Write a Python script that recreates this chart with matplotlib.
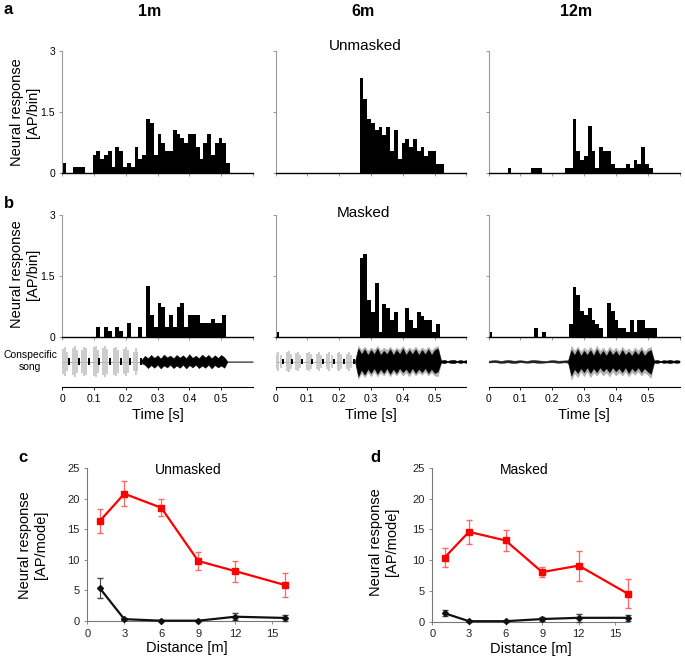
import matplotlib
matplotlib.use('Agg')
import matplotlib.pyplot as plt

plt.rcParams['font.family'] = ['Liberation Sans', 'DejaVu Sans']

# ---- PSTH data (AP/bin), bins of 12 ms starting at t = 0 ----
bin_width = 0.012
unmasked_1m = [0.25, 0, 0, 0.15, 0.15, 0.15, 0, 0, 0.45, 0.53, 0.35, 0.45, 0.53, 0.15, 0.64,
               0.53, 0.15, 0.25, 0.15, 0.64, 0.35, 0.45, 1.34, 1.24, 0.45, 0.95, 0.74, 0.55,
               0.55, 1.05, 0.95, 0.85, 0.74, 0.95, 0.95, 0.64, 0.35, 0.74, 0.95, 0.45, 0.74,
               0.85, 0.74, 0.25]
unmasked_6m = [0, 0, 0, 0, 0, 0, 0, 0, 0, 0, 0, 0, 0, 0, 0, 0, 0, 0, 0, 0, 0, 0,
               2.33, 1.82, 1.33, 1.23, 1.05, 1.13, 0.94, 1.13, 0.53, 1.05, 0.34, 0.74, 0.83,
               0.63, 0.83, 0.53, 0.63, 0.43, 0.53, 0.53, 0.23, 0.23]
unmasked_12m = [0, 0, 0, 0, 0, 0.13, 0, 0, 0, 0, 0, 0.13, 0.13, 0.13, 0, 0, 0, 0, 0, 0,
                0.13, 0.13, 1.33, 0.54, 0.33, 0.43, 1.16, 0.54, 0.13, 0.64, 0.54, 0.54, 0.23,
                0.13, 0.13, 0.13, 0.23, 0.13, 0.33, 0.23, 0.64, 0.23, 0.13]
masked_1m = [0, 0, 0, 0, 0, 0, 0, 0, 0, 0.25, 0, 0.25, 0.15, 0, 0.25, 0.15, 0, 0.35, 0, 0,
             0.25, 0, 1.25, 0.53, 0.25, 0.84, 0.74, 0.25, 0.53, 0.25, 0.74, 0.84, 0.25, 0.53,
             0.53, 0.53, 0.35, 0.35, 0.35, 0.44, 0.35, 0.35, 0.53]
masked_6m = [0.12, 0, 0, 0, 0, 0, 0, 0, 0, 0, 0, 0, 0, 0, 0, 0, 0, 0, 0, 0, 0, 0,
             1.95, 2.04, 0.92, 0.62, 1.33, 0.12, 0.82, 0.72, 0.43, 0.62, 0.12, 0.12, 0.72,
             0.43, 0.23, 0.62, 0.52, 0.43, 0.43, 0.12, 0.33]
masked_12m = [0.12, 0, 0, 0, 0, 0, 0, 0, 0, 0, 0, 0, 0.23, 0, 0.12, 0, 0, 0, 0, 0, 0,
              0.33, 1.23, 1.03, 0.64, 0.53, 0.72, 0.43, 0.33, 0.23, 0, 0.84, 0.64, 0.43,
              0.23, 0.23, 0.12, 0.43, 0.12, 0.43, 0.43, 0.23, 0.23, 0.23]

distance_labels = ['1m', '6m', '12m']
unmasked_psth = [unmasked_1m, unmasked_6m, unmasked_12m]
masked_psth = [masked_1m, masked_6m, masked_12m]

# ---- song oscillogram (relative amplitude) ----
pulse_t = [0.003, 0.009, 0.016, 0.035, 0.042, 0.048, 0.064, 0.070, 0.076, 0.099, 0.106, 0.112,
           0.130, 0.136, 0.142, 0.163, 0.169, 0.176, 0.195, 0.201, 0.207, 0.225, 0.231, 0.236]
pulse_amp_1m = [0.75, 0.9, 0.6, 0.8, 0.95, 0.7, 0.7, 0.9, 0.8, 0.85, 0.95, 0.7,
                0.8, 0.95, 0.75, 0.8, 0.9, 0.7, 0.75, 0.9, 0.7, 0.6, 0.8, 0.55]
pulse_amp_6m = [0.45, 0.6, 0.4, 0.55, 0.65, 0.45, 0.5, 0.6, 0.4, 0.5, 0.6, 0.45,
                0.45, 0.55, 0.4, 0.45, 0.6, 0.4, 0.5, 0.6, 0.45, 0.45, 0.55, 0.4]
mark_t = [0.022, 0.053, 0.084, 0.116, 0.150, 0.184, 0.215, 0.247]

noise_t = [0.25, 0.26, 0.27, 0.28, 0.29, 0.30, 0.31, 0.32, 0.33, 0.34, 0.35, 0.36, 0.37, 0.38,
           0.39, 0.40, 0.41, 0.42, 0.43, 0.44, 0.45, 0.46, 0.47, 0.48, 0.49, 0.50, 0.51, 0.52,
           0.53, 0.54, 0.55, 0.56, 0.57, 0.58, 0.59, 0.60]
noise_1m_hi = [0.1, 0.35, 0.2, 0.4, 0.22, 0.38, 0.18, 0.42, 0.25, 0.36, 0.2, 0.4, 0.24, 0.38,
               0.2, 0.45, 0.22, 0.36, 0.2, 0.42, 0.25, 0.4, 0.2, 0.38, 0.22, 0.4, 0.25, 0,
               0, 0, 0, 0, 0, 0, 0, 0]
noise_1m_lo = [0.1, 0.2, 0.4, 0.22, 0.38, 0.2, 0.42, 0.24, 0.36, 0.2, 0.4, 0.25, 0.38, 0.2,
               0.42, 0.22, 0.36, 0.2, 0.4, 0.25, 0.38, 0.2, 0.42, 0.22, 0.36, 0.25, 0.38, 0,
               0, 0, 0, 0, 0, 0, 0, 0]
noise_6m_hi = [0.05, 0.8, 0.45, 0.75, 0.4, 0.7, 0.45, 0.8, 0.4, 0.65, 0.45, 0.75, 0.4, 0.7,
               0.45, 0.8, 0.4, 0.7, 0.45, 0.75, 0.4, 0.7, 0.45, 0.75, 0.4, 0.7, 0.8, 0.06,
               0.1, 0.04, 0.08, 0.1, 0.04, 0.09, 0.05, 0.08]
noise_6m_lo = [0.05, 0.9, 0.5, 0.8, 0.45, 0.7, 0.4, 0.75, 0.45, 0.7, 0.4, 0.75, 0.45, 0.7,
               0.4, 0.65, 0.45, 0.7, 0.4, 0.7, 0.45, 0.65, 0.4, 0.7, 0.45, 0.7, 0.6, 0.06,
               0.1, 0.04, 0.08, 0.1, 0.04, 0.09, 0.05, 0.08]
gray_6m_hi = [0.05, 0.95, 0.7, 0.9, 0.65, 0.85, 0.7, 0.95, 0.65, 0.85, 0.7, 0.9, 0.65, 0.85,
              0.7, 0.95, 0.65, 0.85, 0.7, 0.9, 0.65, 0.85, 0.7, 0.9, 0.65, 0.85, 0.95, 0.06,
              0.1, 0.04, 0.08, 0.1, 0.04, 0.09, 0.05, 0.08]
gray_6m_lo = [0.05, 1.05, 0.7, 0.95, 0.65, 0.9, 0.6, 0.9, 0.65, 0.85, 0.6, 0.9, 0.65, 0.85,
              0.6, 0.85, 0.65, 0.9, 0.6, 0.85, 0.65, 0.8, 0.6, 0.85, 0.65, 0.85, 0.9, 0.06,
              0.1, 0.04, 0.08, 0.1, 0.04, 0.09, 0.05, 0.08]
noise_12m_hi = [0.08, 0.7, 0.4, 0.75, 0.35, 0.65, 0.4, 0.7, 0.35, 0.75, 0.4, 0.65, 0.35, 0.7,
                0.4, 0.65, 0.35, 0.7, 0.4, 0.6, 0.35, 0.65, 0.4, 0.7, 0.35, 0.6, 0.7, 0.06,
                0.09, 0.04, 0.08, 0.06, 0.1, 0.05, 0.08, 0.06]
noise_12m_lo = [0.08, 0.85, 0.45, 0.7, 0.4, 0.65, 0.35, 0.7, 0.4, 0.65, 0.35, 0.6, 0.4, 0.65,
                0.35, 0.6, 0.4, 0.65, 0.35, 0.7, 0.4, 0.6, 0.35, 0.65, 0.4, 0.6, 0.75, 0.06,
                0.09, 0.04, 0.08, 0.06, 0.1, 0.05, 0.08, 0.06]
gray_12m_hi = [0.08, 0.95, 0.65, 0.9, 0.6, 0.85, 0.65, 0.9, 0.6, 0.95, 0.65, 0.85, 0.6, 0.9,
               0.65, 0.85, 0.6, 0.9, 0.65, 0.8, 0.6, 0.85, 0.65, 0.9, 0.6, 0.8, 0.9, 0.06,
               0.09, 0.04, 0.08, 0.06, 0.1, 0.05, 0.08, 0.06]
gray_12m_lo = [0.08, 1.1, 0.7, 0.95, 0.6, 0.9, 0.6, 0.95, 0.65, 0.85, 0.6, 0.85, 0.65, 0.9,
               0.6, 0.85, 0.65, 0.85, 0.6, 0.9, 0.65, 0.8, 0.6, 0.85, 0.65, 0.8, 1.0, 0.06,
               0.09, 0.04, 0.08, 0.06, 0.1, 0.05, 0.08, 0.06]
quiet_t = [0.0, 0.02, 0.04, 0.06, 0.08, 0.10, 0.12, 0.14, 0.16, 0.18, 0.20, 0.22, 0.24, 0.25]
quiet_12m_hi = [0.05, 0.09, 0.04, 0.1, 0.05, 0.08, 0.04, 0.1, 0.06, 0.04, 0.09, 0.05, 0.07, 0.08]
quiet_12m_lo = [0.06, 0.04, 0.09, 0.05, 0.1, 0.04, 0.08, 0.05, 0.09, 0.06, 0.04, 0.08, 0.05, 0.08]

# ---- distance tuning (AP/mode) ----
distances = [1, 3, 6, 9, 12, 16]
unm_red = [16.3, 20.8, 18.5, 9.8, 8.15, 5.9]
unm_red_err = [2.0, 2.0, 1.4, 1.45, 1.7, 2.0]
unm_black = [5.4, 0.3, 0.05, 0.05, 0.7, 0.5]
unm_black_err = [1.7, 0.15, 0.05, 0.05, 0.6, 0.5]
msk_red = [10.4, 14.6, 13.2, 8.05, 9.1, 4.55]
msk_red_err = [1.6, 2.0, 1.75, 0.85, 2.45, 2.4]
msk_black = [1.35, 0.05, 0.05, 0.4, 0.6, 0.6]
msk_black_err = [0.5, 0.05, 0.05, 0.3, 0.7, 0.5]

W, H = 685.0, 661.0
fig = plt.figure(figsize=(6.85, 6.61), dpi=100)


def box(left, top, w, h):
    return [left / W, 1 - (top + h) / H, w / W, h / H]


col_left = [62, 275.5, 488.5]
time_ticks = [0, 0.1, 0.2, 0.3, 0.4, 0.5]


def psth(ax, heights, first):
    edges = [i * bin_width for i in range(len(heights))]
    ax.bar(edges, heights, width=bin_width, align='edge', color='black', linewidth=0)
    ax.set_xlim(0, 0.6)
    ax.set_ylim(0, 3)
    for s in ['top', 'right']:
        ax.spines[s].set_visible(False)
    ax.spines['left'].set_color('#999999')
    ax.spines['bottom'].set_linewidth(1.0)
    ax.set_xticks([0, 0.1, 0.2, 0.3, 0.4, 0.5, 0.6])
    ax.set_xticklabels([])
    ax.set_yticks([0, 1.5, 3])
    ax.tick_params(length=2, width=0.6, colors='#888888', labelsize=7.5, labelcolor='black', pad=3)
    if first:
        ax.set_yticklabels(['0', '1.5', '3'])
    else:
        ax.set_yticklabels([])


for i in range(3):
    ax = fig.add_axes(box(col_left[i], 51, 191, 122))
    psth(ax, unmasked_psth[i], i == 0)
    ax = fig.add_axes(box(col_left[i], 215, 191, 122))
    psth(ax, masked_psth[i], i == 0)

    # song oscillogram strip with the time axis as its bottom spine
    sx = fig.add_axes(box(col_left[i], 345, 191, 42))
    sx.set_xlim(0, 0.6)
    sx.set_ylim(-1.545, 1)
    for s in ['top', 'right', 'left']:
        sx.spines[s].set_visible(False)
    sx.set_yticks([])
    sx.axhline(0, color='#999999', lw=0.6, zorder=1)
    if i == 0:
        sx.vlines(pulse_t, [-a for a in pulse_amp_1m], pulse_amp_1m, color='#bdbdbd', lw=1.1, zorder=2)
        sx.vlines(mark_t, -0.22, 0.22, color='black', lw=1.4, zorder=3)
        sx.fill_between(noise_t, [-v for v in noise_1m_lo], noise_1m_hi, color='black', lw=0.3, zorder=3)
    elif i == 1:
        sx.vlines(pulse_t, [-a for a in pulse_amp_6m], pulse_amp_6m, color='#bdbdbd', lw=1.1, zorder=2)
        sx.vlines(mark_t, -0.15, 0.15, color='black', lw=1.4, zorder=3)
        sx.fill_between(noise_t, [-v for v in gray_6m_lo], gray_6m_hi, color='#b0b0b0', lw=0.3, zorder=2)
        sx.fill_between(noise_t, [-v for v in noise_6m_lo], noise_6m_hi, color='black', lw=0.3, zorder=3)
    else:
        sx.fill_between(quiet_t, [-v for v in quiet_12m_lo], quiet_12m_hi, color='#222222', lw=0.3, zorder=3)
        sx.fill_between(noise_t, [-v for v in gray_12m_lo], gray_12m_hi, color='#b0b0b0', lw=0.3, zorder=2)
        sx.fill_between(noise_t, [-v for v in noise_12m_lo], noise_12m_hi, color='black', lw=0.3, zorder=3)
    sx.set_xticks(time_ticks)
    sx.set_xticklabels(['0', '0.1', '0.2', '0.3', '0.4', '0.5'])
    sx.tick_params(axis='x', length=2, width=0.6, labelsize=7.5, pad=3)
    sx.set_xlabel('Time [s]', fontsize=10.5, labelpad=3)

    fig.text((col_left[i] + 95.5 - 8) / W, 1 - 12 / H, distance_labels[i],
             fontsize=11.5, fontweight='bold', ha='center', va='center')

fig.text(365 / W, 1 - 46 / H, 'Unmasked', fontsize=11, ha='center', va='center')
fig.text(363 / W, 1 - 213 / H, 'Masked', fontsize=11, ha='center', va='center')
fig.text(4 / W, 1 - 10 / H, 'a', fontsize=12, fontweight='bold', ha='left', va='center')
fig.text(4 / W, 1 - 204 / H, 'b', fontsize=12, fontweight='bold', ha='left', va='center')
fig.text(25 / W, 1 - 112 / H, 'Neural response\n[AP/bin]', fontsize=10.5, rotation=90,
         ha='center', va='center', multialignment='center')
fig.text(25 / W, 1 - 274 / H, 'Neural response\n[AP/bin]', fontsize=10.5, rotation=90,
         ha='center', va='center', multialignment='center')
fig.text(30 / W, 1 - 361 / H, 'Conspecific\nsong', fontsize=7.5, ha='center', va='center',
         multialignment='center')


def tuning(ax, red, red_err, black, black_err, title, title_x):
    ax.errorbar(distances, black, yerr=black_err, color='#111111', lw=1.6, marker='D', ms=3,
                ecolor='#444444', elinewidth=0.8, capsize=2, clip_on=False, zorder=3)
    ax.errorbar(distances, red, yerr=red_err, color='#ff0000', lw=1.6, marker='s', ms=5,
                ecolor='#ff6666', elinewidth=0.9, capsize=2.5, clip_on=False, zorder=4)
    ax.set_xlim(0, 16.1)
    ax.set_ylim(0, 25)
    ax.set_xticks([0, 3, 6, 9, 12, 15])
    ax.set_yticks([0, 5, 10, 15, 20, 25])
    for s in ['top', 'right']:
        ax.spines[s].set_visible(False)
    for s in ['left', 'bottom']:
        ax.spines[s].set_color('#777777')
    ax.tick_params(length=2.5, width=0.6, colors='#777777', labelcolor='#222222', labelsize=8, pad=3)
    ax.set_xlabel('Distance [m]', fontsize=10.5, labelpad=2)
    ax.text(title_x, 0.99, title, transform=ax.transAxes, fontsize=10, ha='center', va='center')


axc = fig.add_axes(box(87.3, 468, 198.5, 153))
tuning(axc, unm_red, unm_red_err, unm_black, unm_black_err, 'Unmasked', 0.51)
axd = fig.add_axes(box(432.3, 468, 196.5, 153.5))
tuning(axd, msk_red, msk_red_err, msk_black, msk_black_err, 'Masked', 0.47)

fig.text(23 / W, 1 - 457 / H, 'c', fontsize=12, fontweight='bold', ha='center', va='center')
fig.text(375 / W, 1 - 457 / H, 'd', fontsize=12, fontweight='bold', ha='center', va='center')
fig.text(33 / W, 1 - 545 / H, 'Neural response\n[AP/mode]', fontsize=10.5, rotation=90,
         ha='center', va='center', multialignment='center')
fig.text(384 / W, 1 - 542 / H, 'Neural response\n[AP/mode]', fontsize=10.5, rotation=90,
         ha='center', va='center', multialignment='center')

fig.savefig('out.png', dpi=100)
